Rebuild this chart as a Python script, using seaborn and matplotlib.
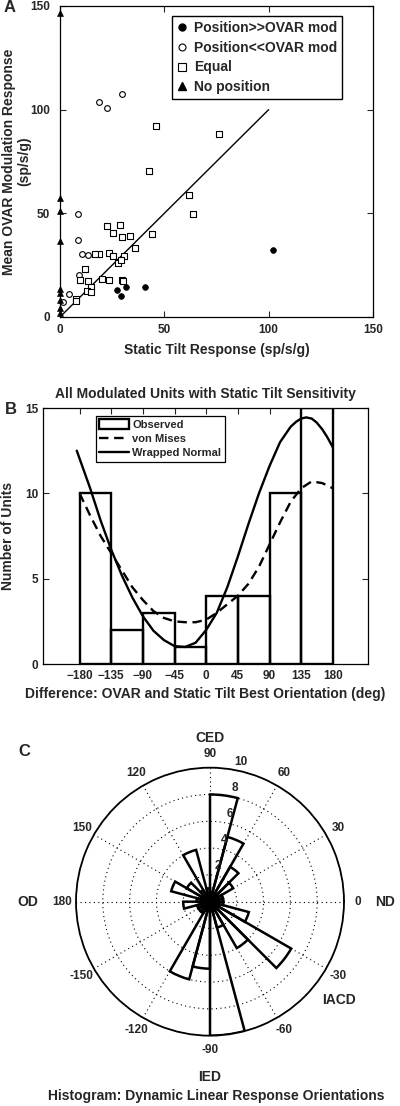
import numpy as np
import matplotlib
matplotlib.use('Agg')
import matplotlib.pyplot as plt
import seaborn as sns
from matplotlib.patches import Patch
from matplotlib.lines import Line2D

# ---- panel A: static tilt vs OVAR modulation ----
pos_gt_x = [102.0, 40.8, 31.7, 27.5, 29.1]
pos_gt_y = [32.1, 14.5, 14.5, 12.8, 10.0]
pos_lt_x = [18.9, 22.7, 29.7, 8.5, 8.5, 10.6, 13.6, 4.3, 1.3, 9.3]
pos_lt_y = [103.9, 101.0, 107.4, 49.8, 36.9, 30.5, 30.0, 11.2, 7.2, 20.4]
equal_x = [46.2, 76.1, 42.5, 61.9, 63.5, 44.3, 33.7, 29.6, 28.8, 22.4, 25.3,
           36.1, 23.5, 25.3, 30.7, 27.7, 29.3, 18.9, 16.6, 12.0, 9.6, 13.6,
           20.0, 23.3, 29.6, 30.4, 14.7, 12.8, 14.9, 7.7, 7.7]
equal_y = [91.9, 88.2, 70.5, 58.8, 49.8, 40.0, 39.0, 38.7, 44.3, 43.8, 40.6,
           33.1, 30.8, 29.5, 29.5, 26.2, 27.3, 30.2, 30.2, 23.1, 18.0, 17.2,
           18.3, 18.0, 18.0, 17.3, 14.4, 12.4, 11.9, 8.7, 7.5]
nopos_x = [0, 0, 0, 0, 0, 0, 0, 0, 0]
nopos_y = [146.5, 57.5, 51.0, 36.5, 13.5, 11.5, 8.0, 4.5, 2.0]
diag_x = [0, 100]
diag_y = [0, 100]

# ---- panel B: difference histogram + fits ----
bin_edges = [-180, -135, -90, -45, 0, 45, 90, 135, 180]
bin_counts = [10, 2, 3, 1, 4, 4, 10, 15]
wn_deg = [-184, -165, -150, -135, -120, -105, -90, -75, -60, -45, -30, -15, 0,
          15, 30, 45, 60, 75, 90, 105, 120, 128, 135, 142, 150, 157, 165, 172, 180]
wn_val = [12.5, 10.3, 8.4, 6.7, 5.2, 3.9, 2.8, 1.95, 1.4, 1.05, 1.0, 1.25, 2.0,
          3.0, 4.5, 6.3, 8.2, 10.0, 11.6, 13.0, 13.9, 14.2, 14.38, 14.45, 14.38,
          14.15, 13.75, 13.3, 12.7]
vm_deg = [-180, -165, -150, -135, -120, -105, -90, -75, -60, -45, -30, -15, 0,
          15, 30, 45, 60, 75, 90, 105, 120, 135, 150, 165, 180]
vm_val = [10.0, 8.7, 7.5, 6.5, 5.5, 4.5, 3.75, 3.1, 2.7, 2.5, 2.45, 2.45, 2.6,
          3.0, 3.5, 4.0, 4.7, 5.7, 7.0, 8.3, 9.5, 10.3, 10.7, 10.6, 10.3]
b_ticks = [-180, -135, -90, -45, 0, 45, 90, 135, 180]

# ---- panel C: rose histogram (15 deg bins from -180) ----
rose_left = list(range(-180, 180, 15))
rose_counts = [2, 1, 1, 1, 6, 5, 10, 2, 4, 7, 3, 1,
               1, 1, 2, 3, 5, 8, 1, 4, 1, 2, 3, 1]
rose_rticks = [2, 4, 6, 8, 10]
ang_ticks = [0, 30, 60, 90, 120, 150, 180, 210, 240, 270, 300, 330]
ang_labels = ['0', '30', '60', '90', '120', '150', '180', '-150', '-120', '-90', '-60', '-30']

sns.set_style('ticks', {'xtick.direction': 'in', 'ytick.direction': 'in',
                        'axes.edgecolor': 'black'})
plt.rcParams['font.family'] = ['Liberation Sans', 'DejaVu Sans']
plt.rcParams['font.weight'] = 'bold'
plt.rcParams['axes.labelweight'] = 'bold'
plt.rcParams['axes.titleweight'] = 'bold'
plt.rcParams['axes.linewidth'] = 0.9

fig = plt.figure(figsize=(4, 11.06), dpi=100)

# ================= A =================
axA = fig.add_axes([0.15, 0.7134, 0.7825, 0.2812])
sns.lineplot(x=diag_x, y=diag_y, ax=axA, color='black', lw=1.0)
sns.scatterplot(x=pos_lt_x, y=pos_lt_y, ax=axA, marker='o', s=17, facecolor='white',
                edgecolor='black', linewidth=0.8, zorder=3)
sns.scatterplot(x=equal_x, y=equal_y, ax=axA, marker='s', s=24, facecolor='white',
                edgecolor='black', linewidth=0.8, zorder=3)
sns.scatterplot(x=pos_gt_x, y=pos_gt_y, ax=axA, marker='o', s=17, color='black',
                edgecolor='black', linewidth=0.5, zorder=4)
sns.scatterplot(x=nopos_x, y=nopos_y, ax=axA, marker='^', s=18, color='black',
                edgecolor='black', linewidth=0.5, zorder=4, clip_on=False)
axA.set_xlim(0, 150)
axA.set_ylim(0, 150)
axA.set_xticks([0, 50, 100, 150])
axA.set_yticks([0, 50, 100, 150])
axA.tick_params(top=True, right=True, length=4, width=0.8, labelsize=8.5)
axA.tick_params(axis='y', pad=7)
axA.tick_params(axis='x', pad=5)
axA.set_xlabel('Static Tilt Response (sp/s/g)', fontsize=10, labelpad=5)
axA.set_ylabel('Mean OVAR Modulation Response\n(sp/s/g)', fontsize=10, linespacing=1.1)
axA.yaxis.set_label_coords(-0.092, 0.5)
for s in axA.spines.values():
    s.set_visible(True)
legA = [Line2D([], [], ls='none', marker='o', ms=5, mfc='black', mec='black'),
        Line2D([], [], ls='none', marker='o', ms=5, mfc='white', mec='black', mew=0.8),
        Line2D([], [], ls='none', marker='s', ms=5.5, mfc='white', mec='black', mew=0.8),
        Line2D([], [], ls='none', marker='^', ms=5.5, mfc='black', mec='black')]
axA.legend(legA, ['Position>>OVAR mod', 'Position<<OVAR mod', 'Equal', 'No position'],
           loc='upper left', bbox_to_anchor=(0.358, 0.968), borderaxespad=0,
           fontsize=10, frameon=True, fancybox=False, framealpha=1, edgecolor='black',
           handlelength=0.8, handletextpad=0.45, labelspacing=0.42, borderpad=0.35)
axA.get_legend().get_frame().set_linewidth(1.0)
fig.text(10 / 400, 1 - 8 / 1106, 'A', fontsize=12, fontweight='bold', ha='center', va='center')

# ================= B =================
axB = fig.add_axes([0.1075, 0.3996, 0.8125, 0.2315])
centers = [(bin_edges[i] + bin_edges[i + 1]) / 2 for i in range(len(bin_counts))]
sns.histplot(x=centers, weights=bin_counts, bins=bin_edges, ax=axB, fill=False,
             element='bars', color='black', linewidth=1.7)
sns.lineplot(x=vm_deg, y=vm_val, ax=axB, color='black', lw=1.7,
             linestyle=(0, (4, 2.4)))
sns.lineplot(x=wn_deg, y=wn_val, ax=axB, color='black', lw=1.7)
axB.set_xlim(-232, 230)
axB.set_ylim(0, 15)
axB.set_xticks(b_ticks)
axB.set_yticks([0, 5, 10, 15])
axB.tick_params(top=True, right=True, length=4, width=0.8, labelsize=8.5)
axB.tick_params(axis='x', pad=4)
axB.set_xlabel('Difference: OVAR and Static Tilt Best Orientation (deg)', fontsize=10, labelpad=4)
axB.set_ylabel('Number of Units', fontsize=10)
axB.yaxis.set_label_coords(-0.086, 0.5)
axB.set_title('All Modulated Units with Static Tilt Sensitivity', fontsize=10, pad=7)
for s in axB.spines.values():
    s.set_visible(True)
legB = [Patch(facecolor='white', edgecolor='black', linewidth=1.7),
        Line2D([], [], color='black', lw=1.7, ls=(0, (4, 2.4))),
        Line2D([], [], color='black', lw=1.7)]
axB.legend(legB, ['Observed', 'von Mises', 'Wrapped Normal'],
           loc='upper left', bbox_to_anchor=(0.162, 0.969), borderaxespad=0,
           fontsize=8, frameon=True, fancybox=False, framealpha=1, edgecolor='black',
           handlelength=2.7, handleheight=1.0, handletextpad=0.3, labelspacing=0.3,
           borderpad=0.3)
axB.get_legend().get_frame().set_linewidth(0.9)
fig.text(11 / 400, 1 - 409 / 1106, 'B', fontsize=12, fontweight='bold', ha='center', va='center')

# ================= C =================
axC = fig.add_axes([0.19, 0.0636, 0.67, 0.2423], projection='polar')
axC.bar(np.deg2rad(np.array(rose_left) + 7.5), rose_counts, width=np.deg2rad(15),
        bottom=0, fill=False, edgecolor='black', linewidth=1.8, zorder=3)
axC.set_ylim(0, 10)
axC.set_yticks(rose_rticks)
axC.set_yticklabels([])
axC.set_xticks(np.deg2rad(ang_ticks))
axC.set_xticklabels([])
axC.grid(True, color='black', linestyle=(0, (1, 3)), linewidth=0.8)
axC.spines['polar'].set_linewidth(1.3)
axC.tick_params(length=0)
for a, lab in zip(ang_ticks, ang_labels):
    axC.text(np.deg2rad(a), 11.05, lab, fontsize=8.5, ha='center', va='center', clip_on=False)
for r in rose_rticks:
    axC.text(np.deg2rad(77.5), r + 0.7, str(r), fontsize=8.5, ha='center', va='center',
             clip_on=False, zorder=5)
axC.text(np.deg2rad(90), 12.2, 'CED', fontsize=10, ha='center', va='center', clip_on=False)
axC.text(np.deg2rad(0), 13.1, 'ND', fontsize=10, ha='center', va='center', clip_on=False)
axC.text(np.deg2rad(180), 13.6, 'OD', fontsize=10, ha='center', va='center', clip_on=False)
axC.text(np.deg2rad(-90), 13.1, 'IED', fontsize=10, ha='center', va='center', clip_on=False)
axC.text(np.deg2rad(-37.5), 12.1, 'IACD', fontsize=10, ha='center', va='center', clip_on=False)
fig.text(24 / 400, 1 - 751 / 1106, 'C', fontsize=12, fontweight='bold', ha='center', va='center')
fig.text(216 / 400, 1 - 1096 / 1106, 'Histogram: Dynamic Linear Response Orientations',
         fontsize=10, fontweight='bold', ha='center', va='center')

fig.savefig('out.png', dpi=100)
